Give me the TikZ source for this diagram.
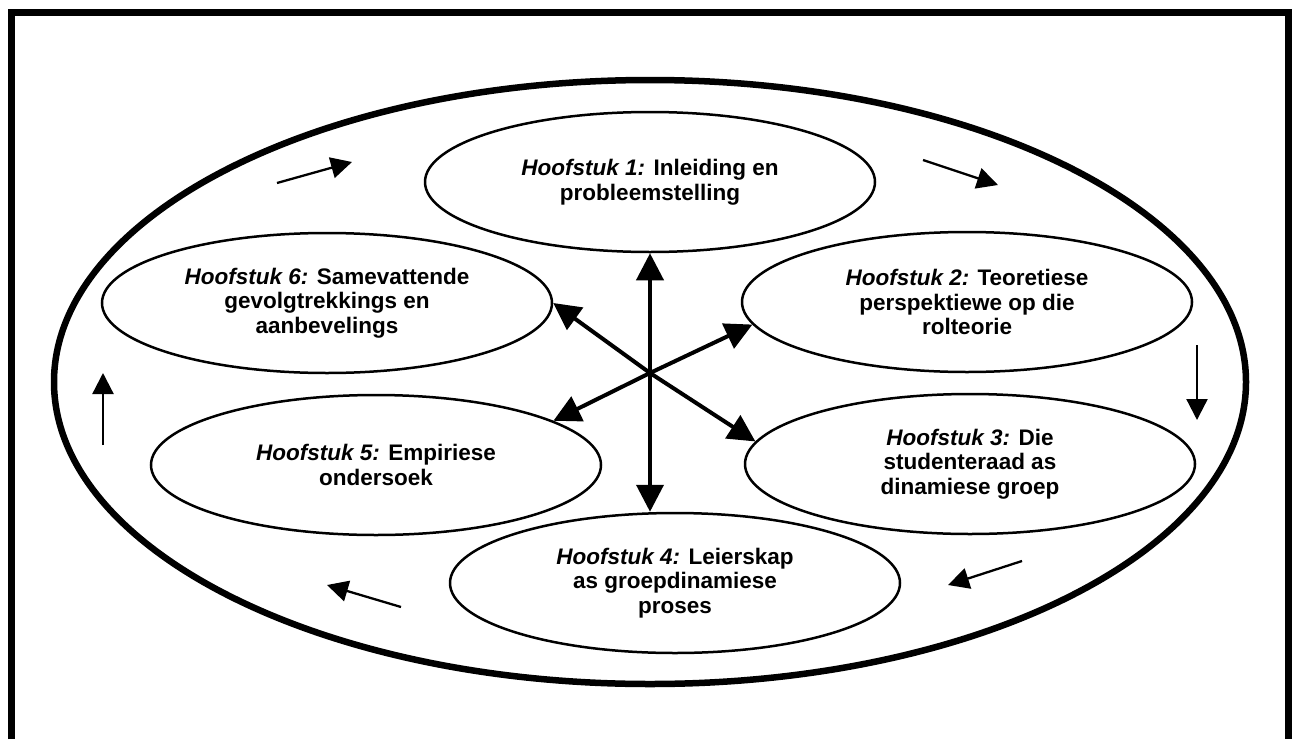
\documentclass[tikz,border=0pt]{standalone}
\usepackage{fontspec}
\setmainfont{Liberation Sans}
\usetikzlibrary{shapes.geometric,arrows.meta}

\begin{document}
\begin{tikzpicture}[x=1pt,y=-1pt,
  frame/.style={line width=7pt,line join=miter},
  ring/.style={ellipse,draw,line width=6.5pt,minimum width=1192pt,minimum height=604pt,inner sep=0pt},
  chapter/.style={ellipse,draw,line width=2.5pt,minimum width=450pt,minimum height=140pt,
    inner sep=0pt,align=center,font=\fontsize{22.5}{24.5}\selectfont\bfseries},
  hub arrow/.style={line width=4pt,-{Triangle[length=27pt,width=27pt]}},
  hub both/.style={line width=4pt,{Triangle[length=27pt,width=27pt]}-{Triangle[length=27pt,width=27pt]}},
  cycle arrow/.style={line width=2.3pt,-{Triangle[length=21pt,width=21pt]}},
]
\useasboundingbox (0,0) rectangle (1295,739);

% outer frame, open at the bottom edge
\draw[frame] (11.5,739) -- (11.5,12.5) -- (1288,12.5) -- (1288,739);

% large enclosing ellipse
\node[ring] (ring) at (650,382) {};

% chapter ellipses
\node[chapter] (h1) at (650,182) {{\itshape Hoofstuk 1:} Inleiding en\\probleemstelling};
\node[chapter] (h2) at (967,302) {{\itshape Hoofstuk 2:} Teoretiese\\perspektiewe op die\\rolteorie};
\node[chapter] (h3) at (970,464) {{\itshape Hoofstuk 3:} Die\\studenteraad as\\dinamiese groep};
\node[chapter] (h4) at (675,583) {{\itshape Hoofstuk 4:} Leierskap\\as groepdinamiese\\proses};
\node[chapter] (h5) at (376,465) {{\itshape Hoofstuk 5:} Empiriese\\ondersoek};
\node[chapter] (h6) at (327,303) {{\itshape Hoofstuk 6:} Samevattende\\gevolgtrekkings en\\aanbevelings};

% central hub with arrows to the chapters
\coordinate (hub) at (650,373);
\draw[hub both] (h1.south) -- (h1.south |- h4.north);
\draw[hub arrow] (hub) -- (h6.east);
\draw[hub arrow] (hub) -- (h2.186);
\draw[hub arrow] (hub) -- (h5.14);
\draw[hub arrow] (hub) -- (h3.174);

% clockwise flow arrows around the ring
\coordinate (a1s) at (277,183);  \coordinate (a1e) at (352,162);
\coordinate (a2s) at (923,160);  \coordinate (a2e) at (998,185);
\coordinate (a3s) at (1197,345); \coordinate (a3e) at (1197,420);
\coordinate (a4s) at (1022,561); \coordinate (a4e) at (948,585);
\coordinate (a5s) at (401,607);  \coordinate (a5e) at (327,585);
\coordinate (a6s) at (103,445);  \coordinate (a6e) at (103,373);
\draw[cycle arrow] (a1s) -- (a1e);
\draw[cycle arrow] (a2s) -- (a2e);
\draw[cycle arrow] (a3s) -- (a3e);
\draw[cycle arrow] (a4s) -- (a4e);
\draw[cycle arrow] (a5s) -- (a5e);
\draw[cycle arrow] (a6s) -- (a6e);
\end{tikzpicture}
\end{document}
